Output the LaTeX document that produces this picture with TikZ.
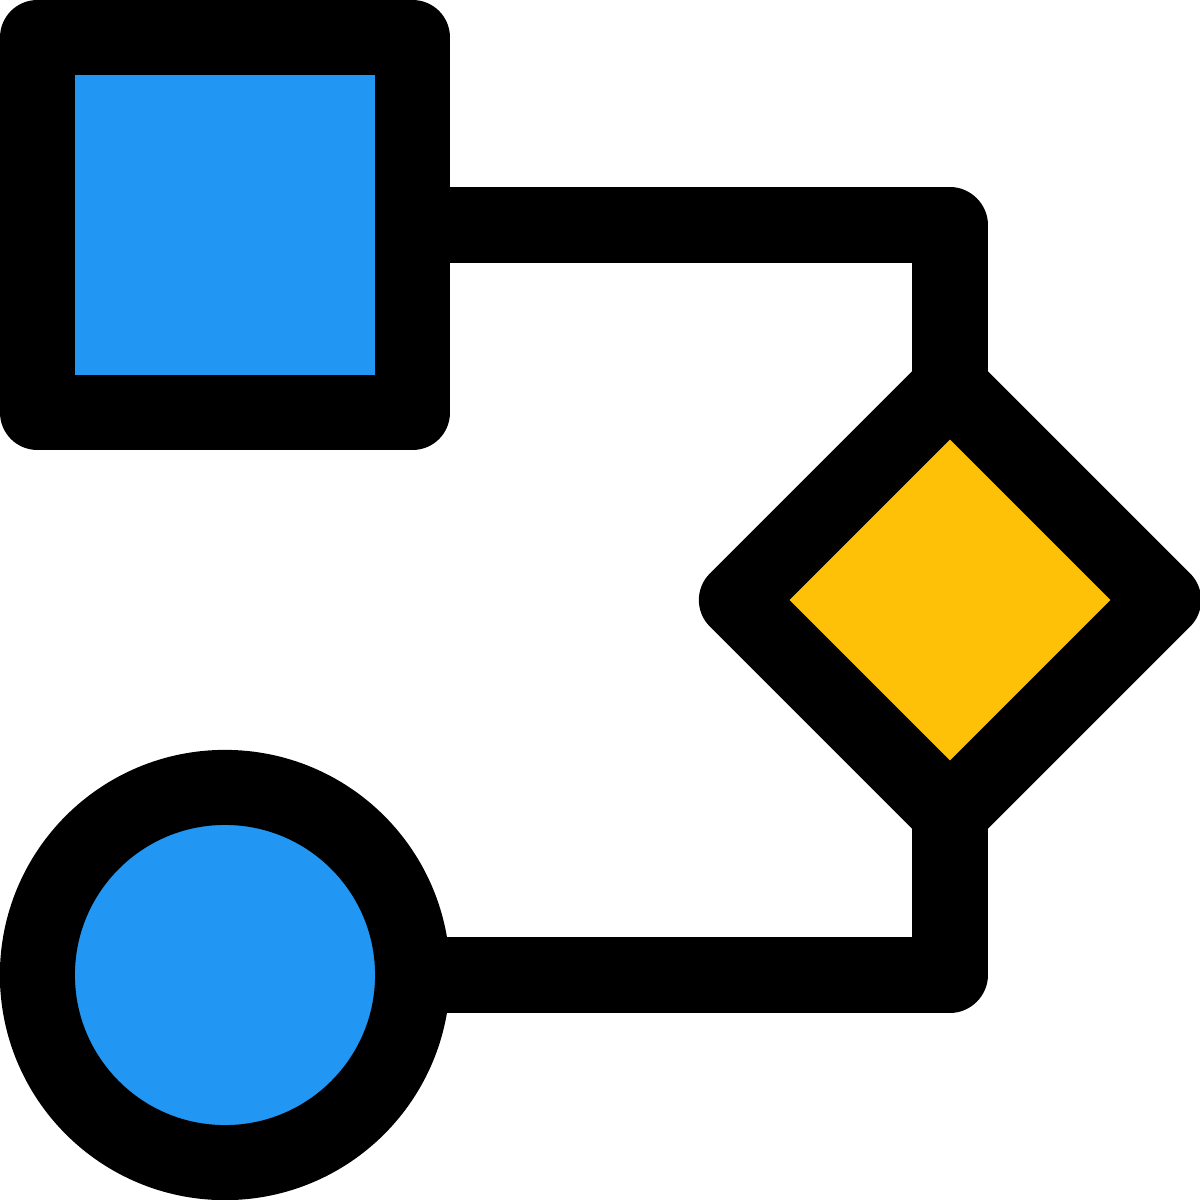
\documentclass[tikz,border=0pt]{standalone}
\usetikzlibrary{shapes.geometric}
\definecolor{iconblue}{HTML}{2196F3}
\definecolor{iconyellow}{HTML}{FFC107}
\begin{document}
\begin{tikzpicture}[x=0.01cm,y=-0.01cm,
  thick line/.style={line width=0.75cm,line join=round,draw=black,outer sep=0pt},
  sqbox/.style={thick line,rectangle,fill=iconblue,minimum width=3.75cm,minimum height=3.75cm,inner sep=0pt},
  dbox/.style={thick line,diamond,fill=iconyellow,minimum width=4.27cm,minimum height=4.27cm,inner sep=0pt},
  cbox/.style={thick line,circle,fill=iconblue,minimum size=3.75cm,inner sep=0pt},
  conn/.style={line width=0.75cm,line join=round,line cap=butt}]
\useasboundingbox (0,0) rectangle (1200,1200);
\node[sqbox] (sq) at (225,225) {};
\node[dbox] (dia) at (950,600) {};
\node[cbox] (circ) at (225,975) {};
\draw[conn] (sq.east) -| (dia.north);
\draw[conn] (dia.south) |- (circ.east);
\end{tikzpicture}
\end{document}
